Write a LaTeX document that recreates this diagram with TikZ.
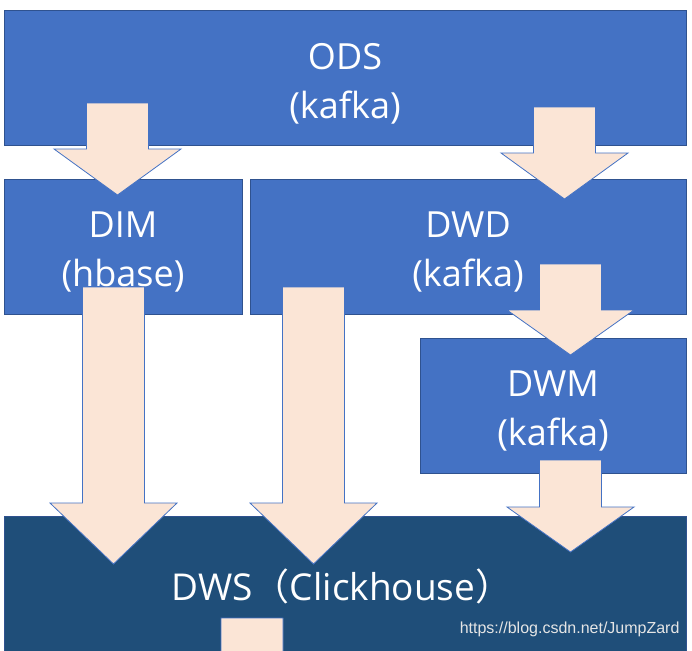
\documentclass[tikz,border=0pt]{standalone}
\usepackage{fontspec}
\setmainfont{Open Sans}
\newfontfamily\cjk{Noto Sans CJK SC}
\newfontfamily\wmfont{Liberation Sans}
\usepackage{xcolor}
\usepackage{tikz}
\definecolor{boxblue}{HTML}{4472C4}
\definecolor{boxedge}{HTML}{2F528F}
\definecolor{dwsblue}{HTML}{1F4E79}
\definecolor{arrowfill}{HTML}{FBE5D6}

\tikzset{layer/.style={draw=boxedge,line width=0.8pt,fill=boxblue,inner sep=0pt},
	layertext/.style={text=white,align=center,inner sep=0pt,font=\fontsize{36}{49}\selectfont}}

% block arrow: centre x, top, base of head, tip
\newcommand{\blockarrow}[4]{%
  \filldraw[fill=arrowfill,draw=boxblue,line width=0.8pt]
    (#1-31,#2) -- (#1+31,#2) -- (#1+31,#3) -- (#1+63.5,#3) -- (#1,#4)
    -- (#1-63.5,#3) -- (#1-31,#3) -- cycle;}

\begin{document}
\begin{tikzpicture}[x=1pt,y=-1pt]
	\useasboundingbox (0,0) rectangle (692,650);
	\clip (0,0) rectangle (692,650);
	\node[layer,minimum width=682pt,minimum height=135pt] (ods) at (345,77.5) {};
	\node[layer,minimum width=238pt,minimum height=135pt] (dim) at (123,246.5) {};
	\node[layer,minimum width=436pt,minimum height=135pt] (dwd) at (468,246.5) {};
	\node[layer,minimum width=266pt,minimum height=135pt] (dwm) at (553,405.5) {};
	\node[layer,fill=dwsblue,minimum width=682pt,minimum height=140pt] (dws) at (345,586) {};
	\node[layertext] (odstext) at ([yshift=-6pt]ods) {ODS\\(kafka)};
	\node[layertext] (dimtext) at ([yshift=-5pt]dim) {DIM\\(hbase)};
	\node[layertext] (dwdtext) at ([yshift=-5pt]dwd) {DWD\\(kafka)};
	\node[layertext] (dwmtext) at ([yshift=-5pt]dwm) {DWM\\(kafka)};
	\node[layertext,font=\fontsize{37}{49}\selectfont] (dwstext) at ([xshift=-3pt]dws)
		{DWS{\cjk（}Clickhouse{\cjk）}};
	\blockarrow{117.5}{103}{149}{195}
	\blockarrow{564.5}{107}{153}{199}
	\blockarrow{113.5}{287}{503}{564}
	\blockarrow{313.5}{287}{503}{564}
	\blockarrow{570.5}{264}{310}{355}
	\blockarrow{570.5}{460}{507}{552}
	\blockarrow{252}{618}{700}{740}
	\node[anchor=east,text=gray!20,font=\wmfont\fontsize{16}{16}\selectfont] (mark) at (683,629)
		{https://blog.csdn.net/JumpZard};
\end{tikzpicture}
\end{document}
